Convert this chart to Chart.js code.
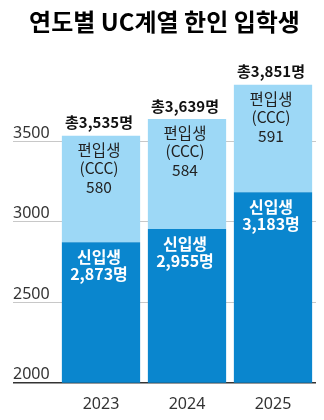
<!DOCTYPE html>
<html>
<head>
<meta charset="utf-8">
<script src="https://cdn.jsdelivr.net/npm/chart.js@4/dist/chart.umd.min.js"></script>
<style>
  html, body { margin: 0; padding: 0; background: #fff; }
  #wrap { width: 324px; height: 420px; }
</style>
</head>
<body>
<div id="wrap"><canvas id="chart"></canvas></div>
<script>
// 데이터
const years = ['2023', '2024', '2025'];
const freshmen = [2873, 2955, 3183];     // 신입생
const transfers = [580, 584, 591];       // 편입생 (CCC)
const totals = [3535, 3639, 3851];       // 총 인원
const yTicks = [2000, 2500, 3000, 3500];

const KR = '"Noto Sans CJK KR", "Noto Sans", sans-serif';
const DARK = '#0A86CE';
const LIGHT = '#9DD8F6';

// 막대 위/안의 라벨
const labelPlugin = {
  id: 'barLabels',
  afterDatasetsDraw(chart) {
    const ctx = chart.ctx;
    const dark = chart.getDatasetMeta(0).data;
    const light = chart.getDatasetMeta(1).data;
    ctx.save();
    ctx.textAlign = 'center';
    ctx.textBaseline = 'middle';
    years.forEach((y, i) => {
      const x = dark[i].x - 2;
      const top = light[i].y;
      const mid = dark[i].y;

      ctx.fillStyle = '#111';
      ctx.font = 'bold 15px ' + KR;
      ctx.fillText('총' + totals[i].toLocaleString('en-US') + '명', x, top - 13);

      ctx.fillStyle = '#222';
      ctx.font = '15.5px ' + KR;
      ctx.fillText('편입생', x, top + 14);
      ctx.fillText('(CCC)', x, top + 32);
      ctx.fillText(String(transfers[i]), x, top + 51);

      ctx.fillStyle = '#fff';
      ctx.font = 'bold 16px ' + KR;
      ctx.fillText('신입생', x, mid + 15);
      ctx.fillText(freshmen[i].toLocaleString('en-US') + '명', x, mid + 32);
    });
    ctx.restore();
  }
};

new Chart(document.getElementById('chart'), {
  type: 'bar',
  data: {
    labels: years,
    datasets: [
      { label: '신입생', data: freshmen, backgroundColor: DARK },
      { label: '편입생', data: totals.map((t, i) => t - freshmen[i]), backgroundColor: LIGHT }
    ]
  },
  options: {
    responsive: true,
    maintainAspectRatio: false,
    animation: false,
    categoryPercentage: 0.91,
    barPercentage: 1,
    layout: { padding: { left: 13, right: 8, bottom: 2 } },
    plugins: {
      legend: { display: false },
      tooltip: { enabled: false },
      title: {
        display: true,
        text: '연도별 UC계열 한인 입학생',
        color: '#000',
        font: { family: KR, size: 24, weight: 'bold' },
        padding: { top: 7, bottom: 25 }
      }
    },
    scales: {
      x: {
        stacked: true,
        grid: { display: false },
        border: { display: false },
        ticks: {
          color: '#333',
          padding: 4,
          font: { family: '"Noto Sans", sans-serif', size: 16 }
        }
      },
      y: {
        stacked: true,
        min: 2000,
        max: 4000,
        afterBuildTicks: (scale) => { scale.ticks = yTicks.map(v => ({ value: v })); },
        afterFit: (scale) => { scale.width = 45; },
        border: { display: false },
        grid: {
          drawTicks: true,
          tickLength: 45,
          color: (c) => c.tick && c.tick.value === 2000 ? '#333' : '#c8c8c8',
          lineWidth: (c) => c.tick && c.tick.value === 2000 ? 1.5 : 1
        },
        ticks: {
          crossAlign: 'far',
          labelOffset: -8,
          color: '#333',
          font: { family: '"Noto Sans", sans-serif', size: 16 },
          callback: (v) => String(v)
        }
      }
    }
  },
  plugins: [labelPlugin]
});
</script>
</body>
</html>
